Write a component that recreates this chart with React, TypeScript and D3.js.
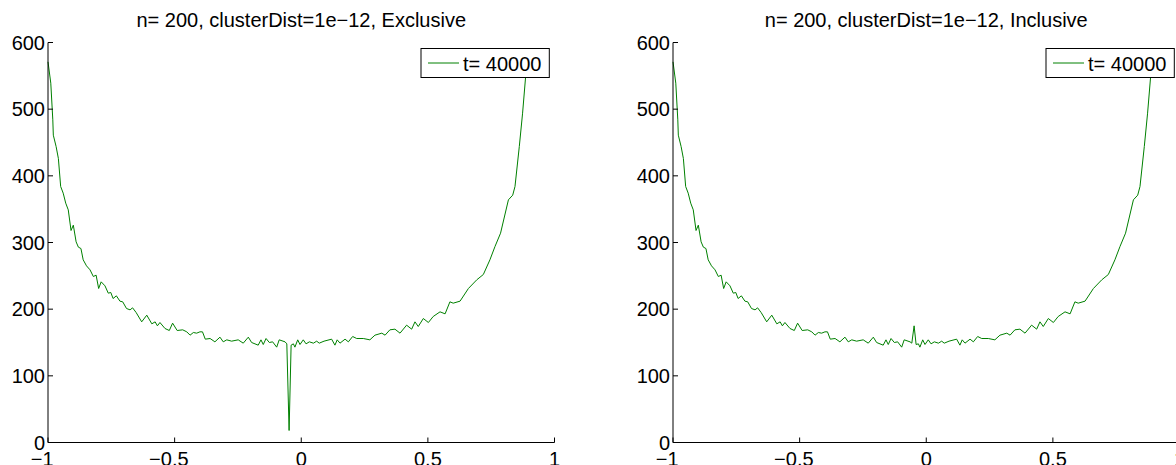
import React from "react";
import * as d3 from "d3";

const titles = ["n= 200, clusterDist=1e\u221212, Exclusive", "n= 200, clusterDist=1e\u221212, Inclusive"];
const legendLabel = "t= 40000";
const xTicks = [-1, -0.5, 0, 0.5, 1];
const yTicks = [0, 100, 200, 300, 400, 500, 600];

const xValues = [
  -1.0, -0.989, -0.981, -0.979, -0.968, -0.959, -0.95, -0.94, -0.93, -0.92,
  -0.909, -0.9, -0.889, -0.88, -0.87, -0.861, -0.848, -0.834, -0.821, -0.81,
  -0.8, -0.79, -0.775, -0.762, -0.752, -0.743, -0.73, -0.716, -0.705, -0.69,
  -0.676, -0.666, -0.652, -0.63, -0.61, -0.59, -0.577, -0.568, -0.558, -0.538,
  -0.521, -0.508, -0.49, -0.468, -0.452, -0.439, -0.426, -0.413, -0.4, -0.39,
  -0.379, -0.36, -0.341, -0.321, -0.308, -0.294, -0.275, -0.249, -0.229, -0.209,
  -0.196, -0.17, -0.159, -0.15, -0.139, -0.126, -0.113, -0.097, -0.087, -0.064,
  -0.057, -0.048, -0.04, -0.031, -0.025, -0.014, -0.005, 0.008, 0.019, 0.032,
  0.048, 0.061, 0.071, 0.09, 0.12, 0.133, 0.142, 0.153, 0.173, 0.186,
  0.203, 0.219, 0.245, 0.271, 0.291, 0.318, 0.331, 0.35, 0.37, 0.39,
  0.416, 0.436, 0.449, 0.462, 0.482, 0.502, 0.521, 0.548, 0.568, 0.587,
  0.6, 0.627, 0.66, 0.693, 0.719, 0.745, 0.765, 0.787, 0.818, 0.835,
  0.844, 0.861, 0.874, 0.886, 0.895,
];

const exclusiveValues = [
  571, 539, 484, 461, 444, 426, 384, 374, 359, 349,
  318, 326, 301, 293, 291, 274, 265, 259, 249, 251,
  231, 241, 235, 224, 225, 216, 220, 212, 211, 201,
  199, 202, 195, 181, 191, 178, 181, 175, 180, 171,
  168, 179, 168, 169, 166, 161, 165, 164, 166, 166,
  155, 156, 151, 158, 151, 154, 152, 154, 149, 158,
  150, 146, 154, 147, 156, 150, 151, 143, 154, 151,
  148, 18, 146, 148, 143, 154, 147, 154, 148, 151,
  149, 152, 149, 152, 155, 146, 154, 149, 155, 151,
  159, 156, 156, 154, 161, 164, 161, 169, 170, 164,
  176, 170, 181, 174, 186, 180, 189, 196, 193, 211,
  209, 212, 231, 244, 252, 274, 294, 314, 364, 371,
  384, 444, 494, 549, 585,
];

const inclusiveValues = [
  571, 539, 484, 461, 444, 426, 384, 374, 359, 349,
  318, 326, 301, 293, 291, 274, 265, 259, 249, 251,
  231, 241, 235, 224, 225, 216, 220, 212, 211, 201,
  199, 202, 195, 181, 191, 178, 181, 175, 180, 171,
  168, 179, 168, 169, 166, 161, 165, 164, 166, 166,
  155, 156, 151, 158, 151, 154, 152, 154, 149, 158,
  150, 146, 154, 147, 156, 150, 151, 143, 154, 151,
  149, 175, 147, 148, 143, 154, 147, 154, 148, 151,
  149, 152, 149, 152, 155, 146, 154, 149, 155, 151,
  159, 156, 156, 154, 161, 164, 161, 169, 170, 164,
  176, 170, 181, 174, 186, 180, 189, 196, 193, 211,
  209, 212, 231, 244, 252, 274, 294, 314, 364, 371,
  384, 444, 494, 549, 585,
];

const FONT = "'Liberation Sans', Arial, Helvetica, sans-serif";
const GREEN = "#008000";

function Panel({ left, title, values }: { left: number; title: string; values: number[] }) {
  const width = 506.5;
  const x = d3.scaleLinear().domain([-1, 1]).range([left, left + width]);
  const y = d3.scaleLinear().domain([0, 600]).range([442.5, 42.5]);
  const pts: [number, number][] = xValues.map((xv, i) => [xv, values[i]]);
  const line = d3
    .line<[number, number]>()
    .x((d) => x(d[0]))
    .y((d) => y(d[1]));
  const legRight = x(1) - 5.2;
  const legLeft = legRight - 128.3;
  const legTop = y(600) + 6;
  const legH = 29;
  return (
    <g>
      <text
        x={(x(-1) + x(1)) / 2}
        y={27}
        textAnchor="middle"
        fontSize={20}
        fontFamily={FONT}
        fill="#000"
      >
        {title}
      </text>
      <path d={line(pts) || ""} fill="none" stroke={GREEN} strokeWidth={1} />
      <line x1={x(-1)} x2={x(1)} y1={y(0)} y2={y(0)} stroke="#000" strokeWidth={1} />
      <line x1={x(-1)} x2={x(-1)} y1={y(0)} y2={y(600)} stroke="#000" strokeWidth={1} />
      {yTicks.map((t) => (
        <g key={"y" + t}>
          <line x1={x(-1)} x2={x(-1) + 5} y1={y(t)} y2={y(t)} stroke="#000" strokeWidth={1} />
          <text
            x={x(-1) - 3}
            y={y(t)}
            dy="0.36em"
            textAnchor="end"
            fontSize={20}
            fontFamily={FONT}
            fill="#000"
          >
            {String(t)}
          </text>
        </g>
      ))}
      {xTicks.map((t) => (
        <g key={"x" + t}>
          <line x1={x(t)} x2={x(t)} y1={y(0)} y2={y(0) - 5} stroke="#000" strokeWidth={1} />
          <text
            x={x(t)}
            y={465.5}
            dx={t < 0 ? -5.8 : 0}
            textAnchor="middle"
            fontSize={20}
            fontFamily={FONT}
            fill="#000"
          >
            {t < 0 ? "\u2212" + String(Math.abs(t)) : String(t)}
          </text>
        </g>
      ))}
      <rect x={legLeft} y={legTop} width={legRight - legLeft} height={legH} fill="#fff" stroke="#000" strokeWidth={1} />
      <line
        x1={legLeft + 7}
        x2={legLeft + 38}
        y1={legTop + legH / 2}
        y2={legTop + legH / 2}
        stroke={GREEN}
        strokeWidth={1}
      />
      <text x={legLeft + 42} y={legTop + 22.3} fontSize={20} fontFamily={FONT} fill="#000">
        {legendLabel}
      </text>
    </g>
  );
}

export default function App() {
  return (
    <svg
      width={1176}
      height={465}
      style={{ position: "absolute", left: 0, top: 0, background: "#fff" }}
    >
      <rect x={0} y={0} width={1176} height={465} fill="#fff" />
      <Panel left={48} title={titles[0]} values={exclusiveValues} />
      <Panel left={673} title={titles[1]} values={inclusiveValues} />
    </svg>
  );
}
